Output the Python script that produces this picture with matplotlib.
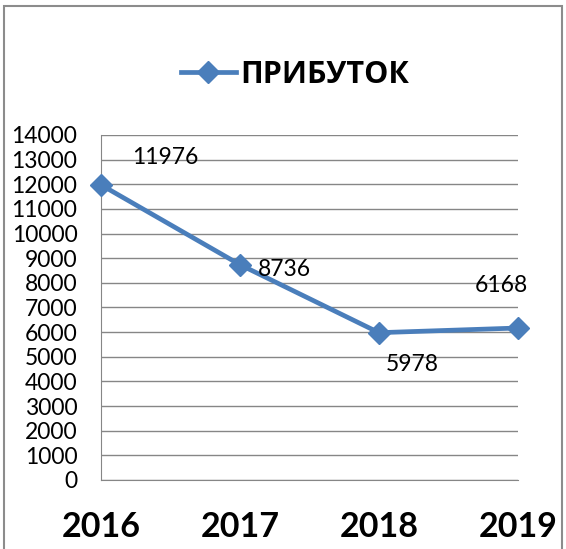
import matplotlib.pyplot as plt
from matplotlib.patches import Rectangle

years = ['2016', '2017', '2018', '2019']
profit = [11976, 8736, 5978, 6168]
# label offsets in pixels relative to each point
label_offsets = [(64, 27), (44, -5), (33, -32), (-17, 43)]

plt.rcParams['font.family'] = ['Lato', 'DejaVu Sans']

fig = plt.figure(figsize=(5.66, 5.49), dpi=100)
ax = fig.add_axes([101 / 566, 1 - 480 / 549, 417 / 566, 345 / 549])

blue = '#4a7ebb'
x = list(range(len(years)))
line, = ax.plot(x, profit, color=blue, lw=3.4, marker='D', ms=11.5,
                label='ПРИБУТОК', clip_on=False, zorder=3)

for xi, v, (dx, dy) in zip(x, profit, label_offsets):
    ax.annotate(str(v), (xi, v), xytext=(dx, dy), textcoords='offset pixels',
                ha='center', va='center', fontsize=16.5, color='black')

ax.set_xlim(0, len(years) - 1)
ax.set_ylim(0, 14000)
ax.set_yticks(range(0, 14001, 1000))
ax.set_xticks(x)
ax.set_xticklabels(years, fontsize=24.5, fontweight='bold')
ax.tick_params(axis='y', length=0, pad=17, labelsize=16.5)
ax.tick_params(axis='x', length=0, pad=22)
ax.grid(axis='y', color='#868686', lw=1)
ax.set_axisbelow(True)
for s in ['top', 'right']:
    ax.spines[s].set_visible(False)
ax.spines['left'].set_color('#868686')
ax.spines['bottom'].set_color('#868686')

fig.legend(handles=[line], loc='center', bbox_to_anchor=(295 / 566, 1 - 75 / 549),
           frameon=False,
           prop={'family': ['Open Sans', 'DejaVu Sans'], 'size': 22, 'weight': 'bold'},
           handlelength=1.8, handletextpad=0.15)

fig.patches.append(Rectangle((4 / 566, -0.05), 558 / 566, 1.05 - 6 / 549,
                             transform=fig.transFigure, fill=False,
                             edgecolor='#8c8c8c', lw=1.5))

fig.savefig('out.png', dpi=100)
